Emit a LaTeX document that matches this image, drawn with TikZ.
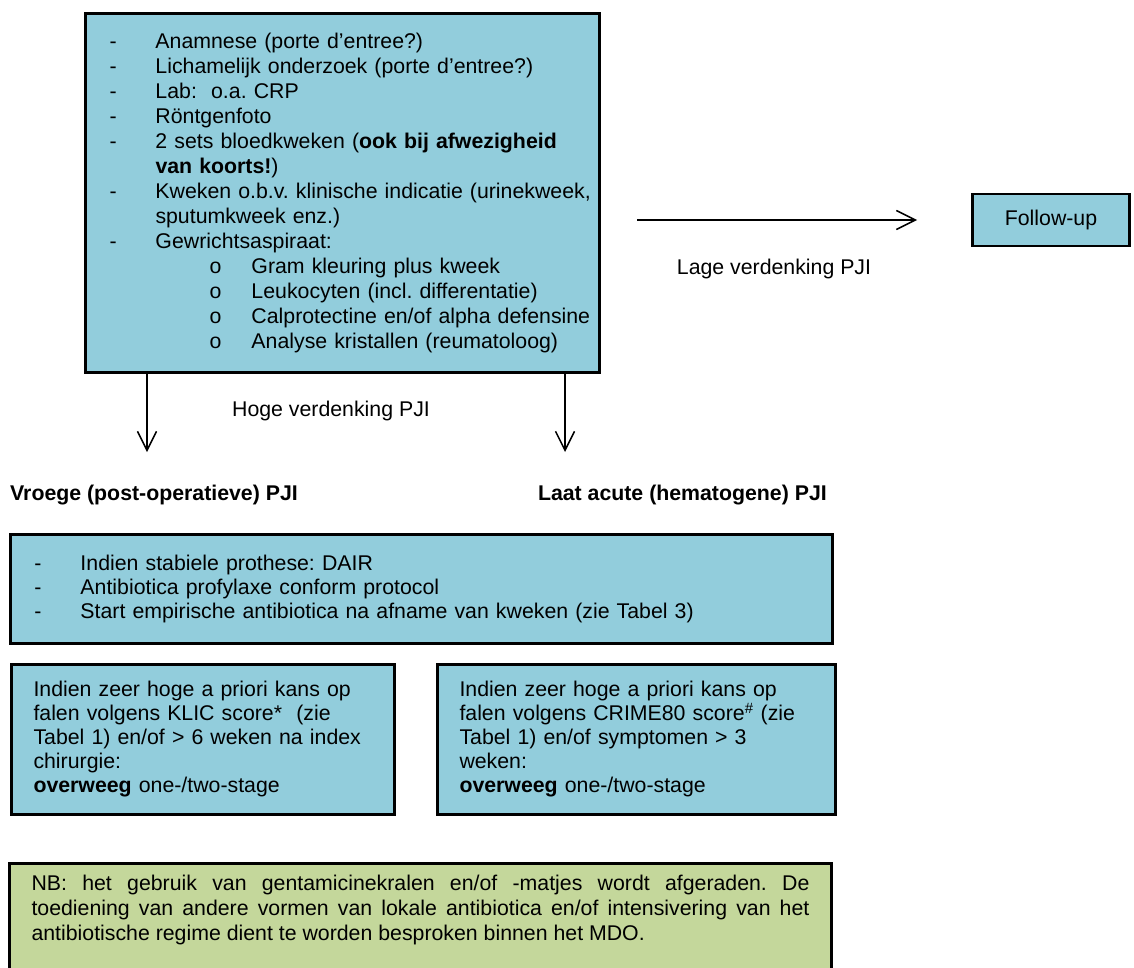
\documentclass[tikz,border=0pt]{standalone}
\usepackage{fontspec}
\setmainfont{Liberation Sans}
\usetikzlibrary{positioning,arrows.meta}

\definecolor{boxblue}{HTML}{92CDDC}
\definecolor{nbgreen}{HTML}{C4D79B}

\newcommand{\basefont}{\fontsize{21.3pt}{25pt}\selectfont}
\newcommand{\dashline}[1]{\hspace*{24pt}\makebox[46pt][l]{-}#1}
\newcommand{\contline}[1]{\hspace*{70pt}#1}
\newcommand{\circline}[1]{\hspace*{124pt}\makebox[42pt][l]{o}#1}

\frenchspacing

\begin{document}
\begin{tikzpicture}[%
    x=1pt, y=-1pt,
    infobox/.style={%
        draw,
        line width=3pt,
        fill=boxblue,
        inner ysep=0pt,
        anchor=north west,
        align=left,
        font=\basefont
    },
    notebox/.style={%
        infobox,
        fill=nbgreen,
        align=justify
    },
    edgelabel/.style={%
        inner sep=0pt,
        font=\basefont
    },
    heading/.style={%
        inner sep=0pt,
        font=\basefont\bfseries
    },
    flowarrow/.style={%
        -{Straight Barb[length=19pt, width=19pt]},
        line width=1.5pt
    }
]
\useasboundingbox (0,0) rectangle (1134,967);
\clip (0,0) rectangle (1134,967);

% Work-up
    \node[infobox, inner xsep=0pt, text width=514pt, minimum height=359pt] (workup) at (84,12) {%
        \dashline{Anamnese (porte d’entree?)}\\
        \dashline{Lichamelijk onderzoek (porte d’entree?)}\\
        \dashline{Lab:\ \ o.a. CRP}\\
        \dashline{Röntgenfoto}\\
        \dashline{2 sets bloedkweken (\textbf{ook bij afwezigheid}}\\
        \contline{\textbf{van koorts!})}\\
        \dashline{Kweken o.b.v. klinische indicatie (urinekweek,}\\
        \contline{sputumkweek enz.)}\\
        \dashline{Gewrichtsaspiraat:}\\
        \circline{Gram kleuring plus kweek}\\
        \circline{Leukocyten (incl. differentatie)}\\
        \circline{Calprotectine en/of alpha defensine}\\
        \circline{Analyse kristallen (reumatoloog)}};

% Lage verdenking
    \node[infobox, anchor=center, align=center, line width=2.5pt, minimum width=157pt, minimum height=52pt] (followup) at (1051,220) {Follow-up};
    \node[edgelabel] (lageLabel) at (774,269) {Lage verdenking PJI};
    \coordinate (lageStart) at (637,220);
    \coordinate (lageTip) at (917,220);

% Hoge verdenking
    \node[edgelabel] (hogeLabel) at (331,411) {Hoge verdenking PJI};
    \coordinate (vroegeTip) at (147,452);
    \coordinate (laatTip) at (565,452);
    \node[heading, anchor=west] (vroege) at (10,495) {Vroege (post-operatieve) PJI};
    \node[heading, anchor=east] (laat) at (827,495) {Laat acute (hematogene) PJI};

% Behandeling
    \node[infobox, inner xsep=0pt, text width=822pt, minimum height=109pt, font=\fontsize{21.3pt}{24pt}\selectfont] (dair) at (9,533) {%
        \dashline{Indien stabiele prothese: DAIR}\\
        \dashline{Antibiotica profylaxe conform protocol}\\
        \dashline{Start empirische antibiotica na afname van kweken (zie Tabel 3)}};

    \node[infobox, inner xsep=22pt, text width=339pt, minimum height=150pt, font=\fontsize{21.3pt}{24pt}\selectfont] (klic) at (10,663) {%
        Indien zeer hoge a priori kans op\\
        falen volgens KLIC score*\ \ (zie\\
        Tabel 1) en/of > 6 weken na index\\
        chirurgie:\\
        \textbf{overweeg} one-/two-stage};
    \node[infobox, inner xsep=22pt, text width=354pt, minimum height=150pt, font=\fontsize{21.3pt}{24pt}\selectfont] (crime) at (436,663) {%
        Indien zeer hoge a priori kans op\\
        falen volgens CRIME80 score\textsuperscript{\#} (zie\\
        Tabel 1) en/of symptomen > 3\\
        weken:\\
        \textbf{overweeg} one-/two-stage};

% NB
    \node[notebox, inner xsep=22pt, text width=778pt, minimum height=108pt] (nb) at (8,862) {%
        NB: het gebruik van gentamicinekralen en/of -matjes wordt afgeraden. De\linebreak
        toediening van andere vormen van lokale antibiotica en/of intensivering van het\linebreak
        antibiotische regime dient te worden besproken binnen het MDO.\\[-5pt]\mbox{}};

% Arrows
\draw[flowarrow] (lageStart) -- (lageTip);
\draw[flowarrow] (workup.south -| vroegeTip) -- (vroegeTip);
\draw[flowarrow] (workup.south -| laatTip) -- (laatTip);

\end{tikzpicture}
\end{document}
